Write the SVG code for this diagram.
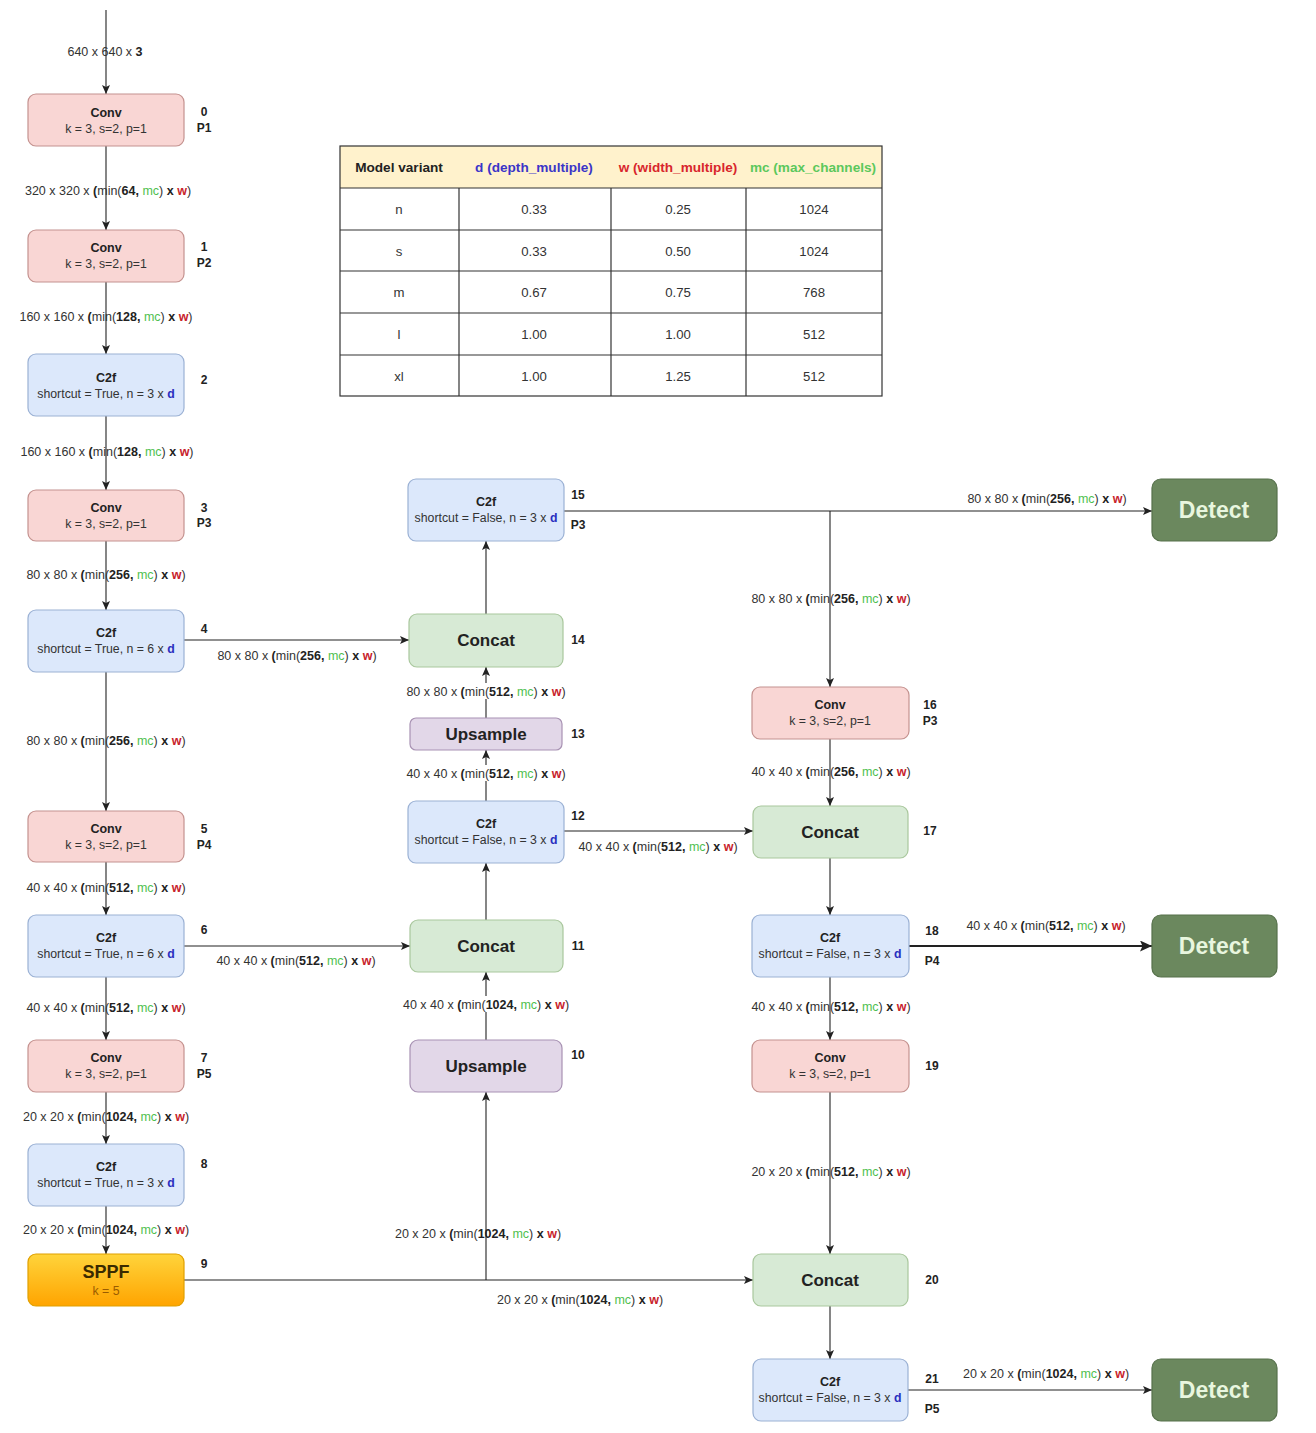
<svg xmlns="http://www.w3.org/2000/svg" width="1316" height="1433" viewBox="0 0 1316 1433">
  <defs>
    <marker id="arrow" markerUnits="userSpaceOnUse" markerWidth="10" markerHeight="8" refX="9" refY="4" orient="auto">
      <path d="M0,0 L9,4 L0,8 L2,4 Z" fill="#222"/>
    </marker>
    <marker id="arrowBig" markerUnits="userSpaceOnUse" markerWidth="13" markerHeight="11" refX="12" refY="5.5" orient="auto">
      <path d="M0,0 L12,5.5 L0,11 L2.5,5.5 Z" fill="#222"/>
    </marker>
    <linearGradient id="sppfGrad" x1="0" y1="0" x2="0" y2="1">
      <stop offset="0" stop-color="#ffd43b"/>
      <stop offset="1" stop-color="#ffa400"/>
    </linearGradient>
  </defs>
  <style>
    text { font-family: "Liberation Sans", Arial, Helvetica, sans-serif; fill: #222; }
    .conv { fill: #f9d6d4; stroke: #c4928f; stroke-width: 1.2; }
    .c2f { fill: #dce8fb; stroke: #9bb1d4; stroke-width: 1.2; }
    .concat { fill: #d7ead5; stroke: #a9c79d; stroke-width: 1.2; }
    .ups { fill: #e2d7e8; stroke: #a892b3; stroke-width: 1.2; }
    .sppf { fill: url(#sppfGrad); stroke: #e0a000; stroke-width: 1.2; }
    .detect { fill: #6b885e; stroke: #56714b; stroke-width: 1.2; }
    .title { font-size: 12.5px; font-weight: bold; text-anchor: middle; }
    .sub { font-size: 12.3px; text-anchor: middle; fill: #333; }
    .big { font-size: 17px; font-weight: bold; text-anchor: middle; }
    .det { font-size: 23px; font-weight: bold; text-anchor: middle; fill: #e8f6df; }
    .idx { font-size: 12px; font-weight: bold; text-anchor: middle; }
    .el { font-size: 12.5px; text-anchor: middle; fill: #333; }
    .b { font-weight: bold; fill: #222; }
    .g { fill: #4fbf4f; }
    .r { fill: #c8232c; font-weight: bold; }
    .dv { fill: #2a2fbf; font-weight: bold; }
    .edge { fill: none; stroke: #222; stroke-width: 1.1; marker-end: url(#arrow); }
    .tline { stroke: #333; stroke-width: 1.2; }
    .th { font-size: 13.6px; font-weight: bold; text-anchor: middle; }
    .td { font-size: 13.2px; text-anchor: middle; fill: #333; }
  </style>

  <!-- parameter table -->
  <g id="variant-table">
    <rect x="340" y="146" width="542" height="42" fill="#fff2cc"/>
    <rect x="340" y="188" width="542" height="208" fill="#ffffff"/>
    <rect x="340" y="146" width="542" height="250" fill="none" class="tline"/>
    <line class="tline" x1="340" y1="188" x2="882" y2="188"/>
    <line class="tline" x1="340" y1="230" x2="882" y2="230"/>
    <line class="tline" x1="340" y1="271" x2="882" y2="271"/>
    <line class="tline" x1="340" y1="313" x2="882" y2="313"/>
    <line class="tline" x1="340" y1="355" x2="882" y2="355"/>
    <line class="tline" x1="459" y1="188" x2="459" y2="396"/>
    <line class="tline" x1="611" y1="188" x2="611" y2="396"/>
    <line class="tline" x1="746" y1="188" x2="746" y2="396"/>
    <text class="th" x="399" y="172">Model variant</text>
    <text class="th" x="534" y="172" style="fill:#3b35c8">d (depth_multiple)</text>
    <text class="th" x="678" y="172" style="fill:#d8262c">w (width_multiple)</text>
    <text class="th" x="813" y="172" style="fill:#5cc85c">mc (max_channels)</text>
    <text class="td" x="399" y="214">n</text><text class="td" x="534" y="214">0.33</text><text class="td" x="678" y="214">0.25</text><text class="td" x="814" y="214">1024</text>
    <text class="td" x="399" y="256">s</text><text class="td" x="534" y="256">0.33</text><text class="td" x="678" y="256">0.50</text><text class="td" x="814" y="256">1024</text>
    <text class="td" x="399" y="297">m</text><text class="td" x="534" y="297">0.67</text><text class="td" x="678" y="297">0.75</text><text class="td" x="814" y="297">768</text>
    <text class="td" x="399" y="339">l</text><text class="td" x="534" y="339">1.00</text><text class="td" x="678" y="339">1.00</text><text class="td" x="814" y="339">512</text>
    <text class="td" x="399" y="381">xl</text><text class="td" x="534" y="381">1.00</text><text class="td" x="678" y="381">1.25</text><text class="td" x="814" y="381">512</text>
  </g>

  <!-- connectors -->
  <g id="connectors">
    <path class="edge" d="M106,10 V94"/>
    <path class="edge" d="M106,146 V230"/>
    <path class="edge" d="M106,282 V354"/>
    <path class="edge" d="M106,416 V490"/>
    <path class="edge" d="M106,541 V610"/>
    <path class="edge" d="M106,672 V811"/>
    <path class="edge" d="M106,862 V915"/>
    <path class="edge" d="M106,977 V1040"/>
    <path class="edge" d="M106,1092 V1144"/>
    <path class="edge" d="M106,1206 V1254"/>
    <path class="edge" d="M184,640 H409"/>
    <path class="edge" d="M184,946 H410"/>
    <path class="edge" d="M184,1280 H753"/>
    <path class="edge" d="M486,1280 V1092"/>
    <path class="edge" d="M486,1040 V972"/>
    <path class="edge" d="M486,920 V863"/>
    <path class="edge" d="M486,801 V750"/>
    <path class="edge" d="M486,718 V667"/>
    <path class="edge" d="M486,614 V541"/>
    <path class="edge" d="M564,511 H1152"/>
    <path class="edge" d="M830,511 V687"/>
    <path class="edge" d="M564,831 H753"/>
    <path class="edge" d="M830,739 V806"/>
    <path class="edge" d="M830,858 V915"/>
    <path class="edge" d="M909,946 H1152" style="stroke-width:2.2;marker-end:url(#arrowBig)"/>
    <path class="edge" d="M830,977 V1040"/>
    <path class="edge" d="M830,1092 V1254"/>
    <path class="edge" d="M830,1306 V1359"/>
    <path class="edge" d="M908,1390 H1152"/>

    <!-- tensor shape labels -->
    <text class="el" x="105" y="56">640 x 640 x <tspan class="b">3</tspan></text>
    <text class="el" x="108" y="195">320 x 320 x <tspan class="b">(</tspan>min(<tspan class="b">64,</tspan> <tspan class="g">mc</tspan>) <tspan class="b">x</tspan> <tspan class="r">w</tspan>)</text>
    <text class="el" x="106" y="321">160 x 160 x <tspan class="b">(</tspan>min(<tspan class="b">128,</tspan> <tspan class="g">mc</tspan>) <tspan class="b">x</tspan> <tspan class="r">w</tspan>)</text>
    <text class="el" x="107" y="456">160 x 160 x <tspan class="b">(</tspan>min(<tspan class="b">128,</tspan> <tspan class="g">mc</tspan>) <tspan class="b">x</tspan> <tspan class="r">w</tspan>)</text>
    <text class="el" x="106" y="579">80 x 80 x <tspan class="b">(</tspan>min(<tspan class="b">256,</tspan> <tspan class="g">mc</tspan>) <tspan class="b">x</tspan> <tspan class="r">w</tspan>)</text>
    <text class="el" x="297" y="660">80 x 80 x <tspan class="b">(</tspan>min(<tspan class="b">256,</tspan> <tspan class="g">mc</tspan>) <tspan class="b">x</tspan> <tspan class="r">w</tspan>)</text>
    <text class="el" x="106" y="745">80 x 80 x <tspan class="b">(</tspan>min(<tspan class="b">256,</tspan> <tspan class="g">mc</tspan>) <tspan class="b">x</tspan> <tspan class="r">w</tspan>)</text>
    <text class="el" x="106" y="892">40 x 40 x <tspan class="b">(</tspan>min(<tspan class="b">512,</tspan> <tspan class="g">mc</tspan>) <tspan class="b">x</tspan> <tspan class="r">w</tspan>)</text>
    <text class="el" x="296" y="965">40 x 40 x <tspan class="b">(</tspan>min(<tspan class="b">512,</tspan> <tspan class="g">mc</tspan>) <tspan class="b">x</tspan> <tspan class="r">w</tspan>)</text>
    <text class="el" x="106" y="1012">40 x 40 x <tspan class="b">(</tspan>min(<tspan class="b">512,</tspan> <tspan class="g">mc</tspan>) <tspan class="b">x</tspan> <tspan class="r">w</tspan>)</text>
    <text class="el" x="106" y="1121">20 x 20 x <tspan class="b">(</tspan>min(<tspan class="b">1024,</tspan> <tspan class="g">mc</tspan>) <tspan class="b">x</tspan> <tspan class="r">w</tspan>)</text>
    <text class="el" x="106" y="1234">20 x 20 x <tspan class="b">(</tspan>min(<tspan class="b">1024,</tspan> <tspan class="g">mc</tspan>) <tspan class="b">x</tspan> <tspan class="r">w</tspan>)</text>
    <text class="el" x="478" y="1238">20 x 20 x <tspan class="b">(</tspan>min(<tspan class="b">1024,</tspan> <tspan class="g">mc</tspan>) <tspan class="b">x</tspan> <tspan class="r">w</tspan>)</text>
    <text class="el" x="580" y="1304">20 x 20 x <tspan class="b">(</tspan>min(<tspan class="b">1024,</tspan> <tspan class="g">mc</tspan>) <tspan class="b">x</tspan> <tspan class="r">w</tspan>)</text>
    <rect x="398" y="996" width="176" height="16" fill="#ffffff"/>
    <text class="el" x="486" y="1009">40 x 40 x <tspan class="b">(</tspan>min(<tspan class="b">1024,</tspan> <tspan class="g">mc</tspan>) <tspan class="b">x</tspan> <tspan class="r">w</tspan>)</text>
    <rect x="403" y="765" width="166" height="16" fill="#ffffff"/>
    <text class="el" x="486" y="778">40 x 40 x <tspan class="b">(</tspan>min(<tspan class="b">512,</tspan> <tspan class="g">mc</tspan>) <tspan class="b">x</tspan> <tspan class="r">w</tspan>)</text>
    <rect x="403" y="683" width="166" height="16" fill="#ffffff"/>
    <text class="el" x="486" y="696">80 x 80 x <tspan class="b">(</tspan>min(<tspan class="b">512,</tspan> <tspan class="g">mc</tspan>) <tspan class="b">x</tspan> <tspan class="r">w</tspan>)</text>
    <text class="el" x="658" y="851">40 x 40 x <tspan class="b">(</tspan>min(<tspan class="b">512,</tspan> <tspan class="g">mc</tspan>) <tspan class="b">x</tspan> <tspan class="r">w</tspan>)</text>
    <text class="el" x="1047" y="503">80 x 80 x <tspan class="b">(</tspan>min(<tspan class="b">256,</tspan> <tspan class="g">mc</tspan>) <tspan class="b">x</tspan> <tspan class="r">w</tspan>)</text>
    <text class="el" x="831" y="603">80 x 80 x <tspan class="b">(</tspan>min(<tspan class="b">256,</tspan> <tspan class="g">mc</tspan>) <tspan class="b">x</tspan> <tspan class="r">w</tspan>)</text>
    <text class="el" x="831" y="776">40 x 40 x <tspan class="b">(</tspan>min(<tspan class="b">256,</tspan> <tspan class="g">mc</tspan>) <tspan class="b">x</tspan> <tspan class="r">w</tspan>)</text>
    <text class="el" x="1046" y="930">40 x 40 x <tspan class="b">(</tspan>min(<tspan class="b">512,</tspan> <tspan class="g">mc</tspan>) <tspan class="b">x</tspan> <tspan class="r">w</tspan>)</text>
    <text class="el" x="831" y="1011">40 x 40 x <tspan class="b">(</tspan>min(<tspan class="b">512,</tspan> <tspan class="g">mc</tspan>) <tspan class="b">x</tspan> <tspan class="r">w</tspan>)</text>
    <text class="el" x="831" y="1176">20 x 20 x <tspan class="b">(</tspan>min(<tspan class="b">512,</tspan> <tspan class="g">mc</tspan>) <tspan class="b">x</tspan> <tspan class="r">w</tspan>)</text>
    <text class="el" x="1046" y="1378">20 x 20 x <tspan class="b">(</tspan>min(<tspan class="b">1024,</tspan> <tspan class="g">mc</tspan>) <tspan class="b">x</tspan> <tspan class="r">w</tspan>)</text>
  </g>

  <!-- backbone -->
  <g id="node-0">
    <rect class="conv" x="28" y="94" width="156" height="52" rx="8"/>
    <text class="title" x="106" y="117">Conv</text>
    <text class="sub" x="106" y="133">k = 3, s=2, p=1</text>
    <text class="idx" x="204" y="116">0</text><text class="idx" x="204" y="132">P1</text>
  </g>
  <g id="node-1">
    <rect class="conv" x="28" y="230" width="156" height="52" rx="8"/>
    <text class="title" x="106" y="252">Conv</text>
    <text class="sub" x="106" y="268">k = 3, s=2, p=1</text>
    <text class="idx" x="204" y="251">1</text><text class="idx" x="204" y="267">P2</text>
  </g>
  <g id="node-2">
    <rect class="c2f" x="28" y="354" width="156" height="62" rx="8"/>
    <text class="title" x="106" y="382">C2f</text>
    <text class="sub" x="106" y="398">shortcut = True, n = 3 x <tspan class="dv">d</tspan></text>
    <text class="idx" x="204" y="384">2</text>
  </g>
  <g id="node-3">
    <rect class="conv" x="28" y="490" width="156" height="51" rx="8"/>
    <text class="title" x="106" y="512">Conv</text>
    <text class="sub" x="106" y="528">k = 3, s=2, p=1</text>
    <text class="idx" x="204" y="512">3</text><text class="idx" x="204" y="527">P3</text>
  </g>
  <g id="node-4">
    <rect class="c2f" x="28" y="610" width="156" height="62" rx="8"/>
    <text class="title" x="106" y="637">C2f</text>
    <text class="sub" x="106" y="653">shortcut = True, n = 6 x <tspan class="dv">d</tspan></text>
    <text class="idx" x="204" y="633">4</text>
  </g>
  <g id="node-5">
    <rect class="conv" x="28" y="811" width="156" height="51" rx="8"/>
    <text class="title" x="106" y="833">Conv</text>
    <text class="sub" x="106" y="849">k = 3, s=2, p=1</text>
    <text class="idx" x="204" y="833">5</text><text class="idx" x="204" y="849">P4</text>
  </g>
  <g id="node-6">
    <rect class="c2f" x="28" y="915" width="156" height="62" rx="8"/>
    <text class="title" x="106" y="942">C2f</text>
    <text class="sub" x="106" y="958">shortcut = True, n = 6 x <tspan class="dv">d</tspan></text>
    <text class="idx" x="204" y="934">6</text>
  </g>
  <g id="node-7">
    <rect class="conv" x="28" y="1040" width="156" height="52" rx="8"/>
    <text class="title" x="106" y="1062">Conv</text>
    <text class="sub" x="106" y="1078">k = 3, s=2, p=1</text>
    <text class="idx" x="204" y="1062">7</text><text class="idx" x="204" y="1078">P5</text>
  </g>
  <g id="node-8">
    <rect class="c2f" x="28" y="1144" width="156" height="62" rx="8"/>
    <text class="title" x="106" y="1171">C2f</text>
    <text class="sub" x="106" y="1187">shortcut = True, n = 3 x <tspan class="dv">d</tspan></text>
    <text class="idx" x="204" y="1168">8</text>
  </g>
  <g id="node-9">
    <rect class="sppf" x="28" y="1254" width="156" height="52" rx="8"/>
    <text class="big" x="106" y="1278" style="font-size:18px;fill:#3a2a00">SPPF</text>
    <text class="sub" x="106" y="1295" style="fill:#9a5c00">k = 5</text>
    <text class="idx" x="204" y="1268">9</text>
  </g>

  <!-- head, upsampling path -->
  <g id="node-10">
    <rect class="ups" x="410" y="1040" width="152" height="52" rx="8"/>
    <text class="big" x="486" y="1072">Upsample</text>
    <text class="idx" x="578" y="1059">10</text>
  </g>
  <g id="node-11">
    <rect class="concat" x="410" y="920" width="153" height="52" rx="8"/>
    <text class="big" x="486" y="952">Concat</text>
    <text class="idx" x="578" y="950">11</text>
  </g>
  <g id="node-12">
    <rect class="c2f" x="408" y="801" width="156" height="62" rx="8"/>
    <text class="title" x="486" y="828">C2f</text>
    <text class="sub" x="486" y="844">shortcut = False, n = 3 x <tspan class="dv">d</tspan></text>
    <text class="idx" x="578" y="820">12</text>
  </g>
  <g id="node-13">
    <rect class="ups" x="410" y="718" width="152" height="32" rx="6"/>
    <text class="big" x="486" y="740">Upsample</text>
    <text class="idx" x="578" y="738">13</text>
  </g>
  <g id="node-14">
    <rect class="concat" x="409" y="614" width="154" height="53" rx="8"/>
    <text class="big" x="486" y="646">Concat</text>
    <text class="idx" x="578" y="644">14</text>
  </g>
  <g id="node-15">
    <rect class="c2f" x="408" y="479" width="156" height="62" rx="8"/>
    <text class="title" x="486" y="506">C2f</text>
    <text class="sub" x="486" y="522">shortcut = False, n = 3 x <tspan class="dv">d</tspan></text>
    <text class="idx" x="578" y="499">15</text><text class="idx" x="578" y="529">P3</text>
  </g>

  <!-- head, downsampling path -->
  <g id="node-16">
    <rect class="conv" x="752" y="687" width="157" height="52" rx="8"/>
    <text class="title" x="830" y="709">Conv</text>
    <text class="sub" x="830" y="725">k = 3, s=2, p=1</text>
    <text class="idx" x="930" y="709">16</text><text class="idx" x="930" y="725">P3</text>
  </g>
  <g id="node-17">
    <rect class="concat" x="753" y="806" width="155" height="52" rx="8"/>
    <text class="big" x="830" y="838">Concat</text>
    <text class="idx" x="930" y="835">17</text>
  </g>
  <g id="node-18">
    <rect class="c2f" x="752" y="915" width="157" height="62" rx="8"/>
    <text class="title" x="830" y="942">C2f</text>
    <text class="sub" x="830" y="958">shortcut = False, n = 3 x <tspan class="dv">d</tspan></text>
    <text class="idx" x="932" y="935">18</text><text class="idx" x="932" y="965">P4</text>
  </g>
  <g id="node-19">
    <rect class="conv" x="752" y="1040" width="157" height="52" rx="8"/>
    <text class="title" x="830" y="1062">Conv</text>
    <text class="sub" x="830" y="1078">k = 3, s=2, p=1</text>
    <text class="idx" x="932" y="1070">19</text>
  </g>
  <g id="node-20">
    <rect class="concat" x="753" y="1254" width="155" height="52" rx="8"/>
    <text class="big" x="830" y="1286">Concat</text>
    <text class="idx" x="932" y="1284">20</text>
  </g>
  <g id="node-21">
    <rect class="c2f" x="753" y="1359" width="155" height="62" rx="8"/>
    <text class="title" x="830" y="1386">C2f</text>
    <text class="sub" x="830" y="1402">shortcut = False, n = 3 x <tspan class="dv">d</tspan></text>
    <text class="idx" x="932" y="1383">21</text><text class="idx" x="932" y="1413">P5</text>
  </g>

  <!-- detection heads -->
  <g id="detect-p3">
    <rect class="detect" x="1152" y="479" width="125" height="62" rx="9"/>
    <text class="det" x="1214" y="518">Detect</text>
  </g>
  <g id="detect-p4">
    <rect class="detect" x="1152" y="915" width="125" height="62" rx="9"/>
    <text class="det" x="1214" y="954">Detect</text>
  </g>
  <g id="detect-p5">
    <rect class="detect" x="1152" y="1359" width="125" height="62" rx="9"/>
    <text class="det" x="1214" y="1398">Detect</text>
  </g>
</svg>
